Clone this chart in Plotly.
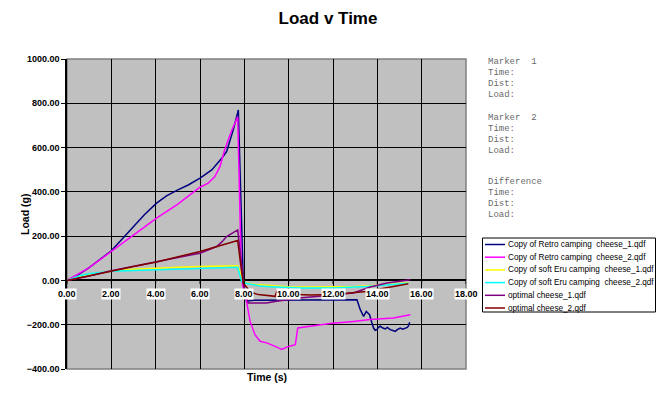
import plotly.graph_objects as go

# ---------------- data ----------------
series_names = [
    "Copy of Retro camping  cheese_1.qdf",
    "Copy of Retro camping  cheese_2.qdf",
    "Copy of soft Eru camping  cheese_1.qdf",
    "Copy of soft Eru camping  cheese_2.qdf",
    "optimal cheese_1.qdf",
    "optimal cheese_2.qdf",
]
series_colors = ["#000080", "#FF00FF", "#FFFF00", "#00FFFF", "#800080", "#800000"]

retro1_t = [0, 0.5, 1, 1.5, 2, 2.5, 3, 3.5, 4.04, 4.49, 5, 5.47, 6, 6.53, 6.98, 7.2, 7.5, 7.73,
            7.8, 7.88, 7.95, 8.1, 8.2, 8.44, 10.0, 12.0, 13.0, 13.08, 13.23, 13.3, 13.38, 13.5,
            13.6, 13.65, 13.75, 13.83, 13.9, 13.98, 14.05, 14.13, 14.25, 14.36, 14.45, 14.58,
            14.7, 14.81, 14.9, 15.03, 15.15, 15.26, 15.35, 15.41, 15.46]
retro1_l = [0, 25, 58, 95, 134, 188, 243, 298, 349, 382, 409, 431, 462, 499, 552, 582, 680, 770,
            520, 220, 0, -95, -92, -90, -90, -90, -90, -87, -132, -150, -162, -140,
            -148, -155, -190, -215, -225, -222, -212, -207, -215, -219, -212, -222,
            -226, -230, -222, -215, -220, -215, -212, -204, -189]

retro2_t = [0, 1, 2, 3, 4.04, 5, 5.47, 6, 6.37, 6.67, 6.9, 7.11, 7.4, 7.7, 7.78, 7.85, 7.92,
            8.1, 8.26, 8.48, 8.71, 9.01, 9.39, 9.69, 9.99, 10.3, 10.41, 10.95, 11.86, 12.92,
            13.67, 14.72, 15.49]
retro2_l = [0, 58, 131, 205, 281, 345, 379, 421, 439, 469, 514, 589, 670, 739, 400, 100, -20,
            -95, -185, -245, -275, -282, -298, -312, -298, -290, -215, -207, -195, -185,
            -177, -170, -155]

soft1_t = [0, 0.5, 1, 2, 3, 4.04, 5, 6, 7, 7.7, 7.8, 7.9, 8.03, 8.5, 9, 10, 11, 12, 13, 14, 15, 15.4]
soft1_l = [0, 18, 28, 41, 50, 56, 60, 63, 65, 66, 40, 10, -10, -18, -22, -28, -30, -30, -27, -22, -14, -10]

soft2_t = [0, 0.57, 1, 2, 3, 4.04, 5, 6, 7, 7.7, 7.78, 7.88, 8.03, 8.7, 9.0, 10.14, 10.5, 12, 13.5, 15.4]
soft2_l = [0, 21, 30, 41, 45, 48, 52, 56, 58, 59, 30, -5, -12, -25, -27, -32, -34, -34, -27, -13]

opt1_t = [0, 1, 2, 3, 4.04, 5, 6, 6.5, 6.75, 7.0, 7.2, 7.7, 7.8, 7.9, 8.0, 8.18, 9.0, 9.38,
          10.5, 12, 12.92, 13.68, 14.44, 15.49]
opt1_l = [0, 20, 44, 65, 86, 104, 123, 142, 153, 175, 198, 228, 150, 50, -50, -102, -102, -95,
          -79, -64, -57, -30, -12, 3]

opt2_t = [0, 1, 2, 3, 4.04, 5, 6, 6.5, 7.0, 7.2, 7.7, 7.8, 7.95, 8.25, 8.4, 8.63, 9.39, 9.46,
          10, 11, 12, 13.5, 14.4, 15.4]
opt2_l = [0, 22, 44, 63, 83, 105, 131, 145, 160, 168, 180, 100, -12, -50, -57, -64, -72, -50,
          -62, -66, -64, -50, -34, -15]

series_t = [retro1_t, retro2_t, soft1_t, soft2_t, opt1_t, opt2_t]
series_l = [retro1_l, retro2_l, soft1_l, soft2_l, opt1_l, opt2_l]

x_ticks = [0, 2, 4, 6, 8, 10, 12, 14, 16, 18]
y_ticks = [-400, -200, 0, 200, 400, 600, 800, 1000]
marker_lines = ["Marker  1", "Time:", "Dist:", "Load:",
                "Marker  2", "Time:", "Dist:", "Load:",
                "Difference", "Time:", "Dist:", "Load:"]

# ---------------- layout helpers ----------------
W, H = 656, 394
PL, PR, PT, PB = 67, 466, 59, 369


def px(xp):
    return (xp - PL) / (PR - PL)


def py(yp):
    return (PB - yp) / (PB - PT)


fig = go.Figure()
for name, color, t, l in zip(series_names, series_colors, series_t, series_l):
    fig.add_trace(go.Scatter(x=t, y=l, mode="lines", name=name,
                             line=dict(color=color, width=1.5), showlegend=False))

annotations = []
shapes = []

# x tick labels on the zero line
for v in x_ticks:
    annotations.append(dict(x=v, y=0, xref="x", yref="y", text=f"{v:.2f}", showarrow=False,
                            yanchor="top", yshift=-8, bgcolor="white", borderpad=0,
                            font=dict(family="Liberation Sans, Arial", size=9, color="black",
                                      weight="bold")))
    shapes.append(dict(type="line", xref="x", yref="y", x0=v, x1=v, y0=0, y1=-16,
                       line=dict(color="black", width=1)))

# plot border
shapes.append(dict(type="rect", xref="paper", yref="paper", x0=0, x1=1, y0=0, y1=1,
                   line=dict(color="#808080", width=1.5), layer="below"))

# axis titles
annotations.append(dict(x=px(266.5), y=py(385), xref="paper", yref="paper", text="Time (s)",
                        showarrow=False, font=dict(family="Liberation Sans, Arial", size=10.5,
                                                   color="black", weight="bold")))
annotations.append(dict(x=px(17), y=py(215), xref="paper", yref="paper", text="Load (g)",
                        showarrow=False, textangle=-90,
                        font=dict(family="Liberation Sans, Arial", size=10.5, color="black",
                                  weight="bold")))

# marker text block
marker_y = [62, 73, 84, 95, 118, 129, 140, 151, 182, 193, 204, 215]
for txt, yy in zip(marker_lines, marker_y):
    annotations.append(dict(x=px(486), y=py(yy), xref="paper", yref="paper", text=txt,
                            showarrow=False, xanchor="left", yanchor="middle",
                            font=dict(family="Liberation Mono, monospace", size=9,
                                      color="#6a6a6a")))

# manual legend
lg_left, lg_top, lg_bottom, lg_right = 482.5, 238, 312, 655.5
shapes.append(dict(type="rect", xref="paper", yref="paper", x0=px(lg_left), x1=px(lg_right),
                   y0=py(lg_bottom), y1=py(lg_top), line=dict(color="black", width=1),
                   fillcolor="white"))
for i, (name, color) in enumerate(zip(series_names, series_colors)):
    yy = 244.5 + i * 12.7
    shapes.append(dict(type="line", xref="paper", yref="paper", x0=px(485), x1=px(505),
                       y0=py(yy), y1=py(yy), line=dict(color=color, width=1.5)))
    annotations.append(dict(x=px(506), y=py(yy), xref="paper", yref="paper", text=name,
                            showarrow=False, xanchor="left", yanchor="middle",
                            font=dict(family="Liberation Sans, Arial", size=8.2, color="black")))

fig.update_layout(
    width=W, height=H,
    margin=dict(l=PL, r=W - PR, t=PT, b=H - PB, pad=0, autoexpand=False),
    paper_bgcolor="white",
    plot_bgcolor="#C0C0C0",
    title=dict(text="Load v Time", x=0.5, xref="container", xanchor="center",
               y=1 - 18 / H, yanchor="middle",
               font=dict(family="Liberation Sans, Arial", size=17, color="black",
                         weight="bold")),
    xaxis=dict(range=[0, 18], tickvals=x_ticks, showticklabels=False, showgrid=True,
               gridcolor="black", gridwidth=1, zeroline=False, showline=False, ticks=""),
    yaxis=dict(range=[-400, 1000], tickvals=y_ticks, tickformat=".2f", showgrid=True,
               gridcolor="black", gridwidth=1, zeroline=True, zerolinecolor="black",
               zerolinewidth=2, showline=True, linecolor="black", linewidth=1.5,
               ticks="outside", ticklen=4, tickcolor="black",
               tickfont=dict(family="Liberation Sans, Arial", size=9, color="black",
                             weight="bold")),
    annotations=annotations,
    shapes=shapes,
    showlegend=False,
)

fig.write_html("out.html", config={"displayModeBar": False},
               post_script="document.body.style.margin='0';document.body.style.padding='0';")
